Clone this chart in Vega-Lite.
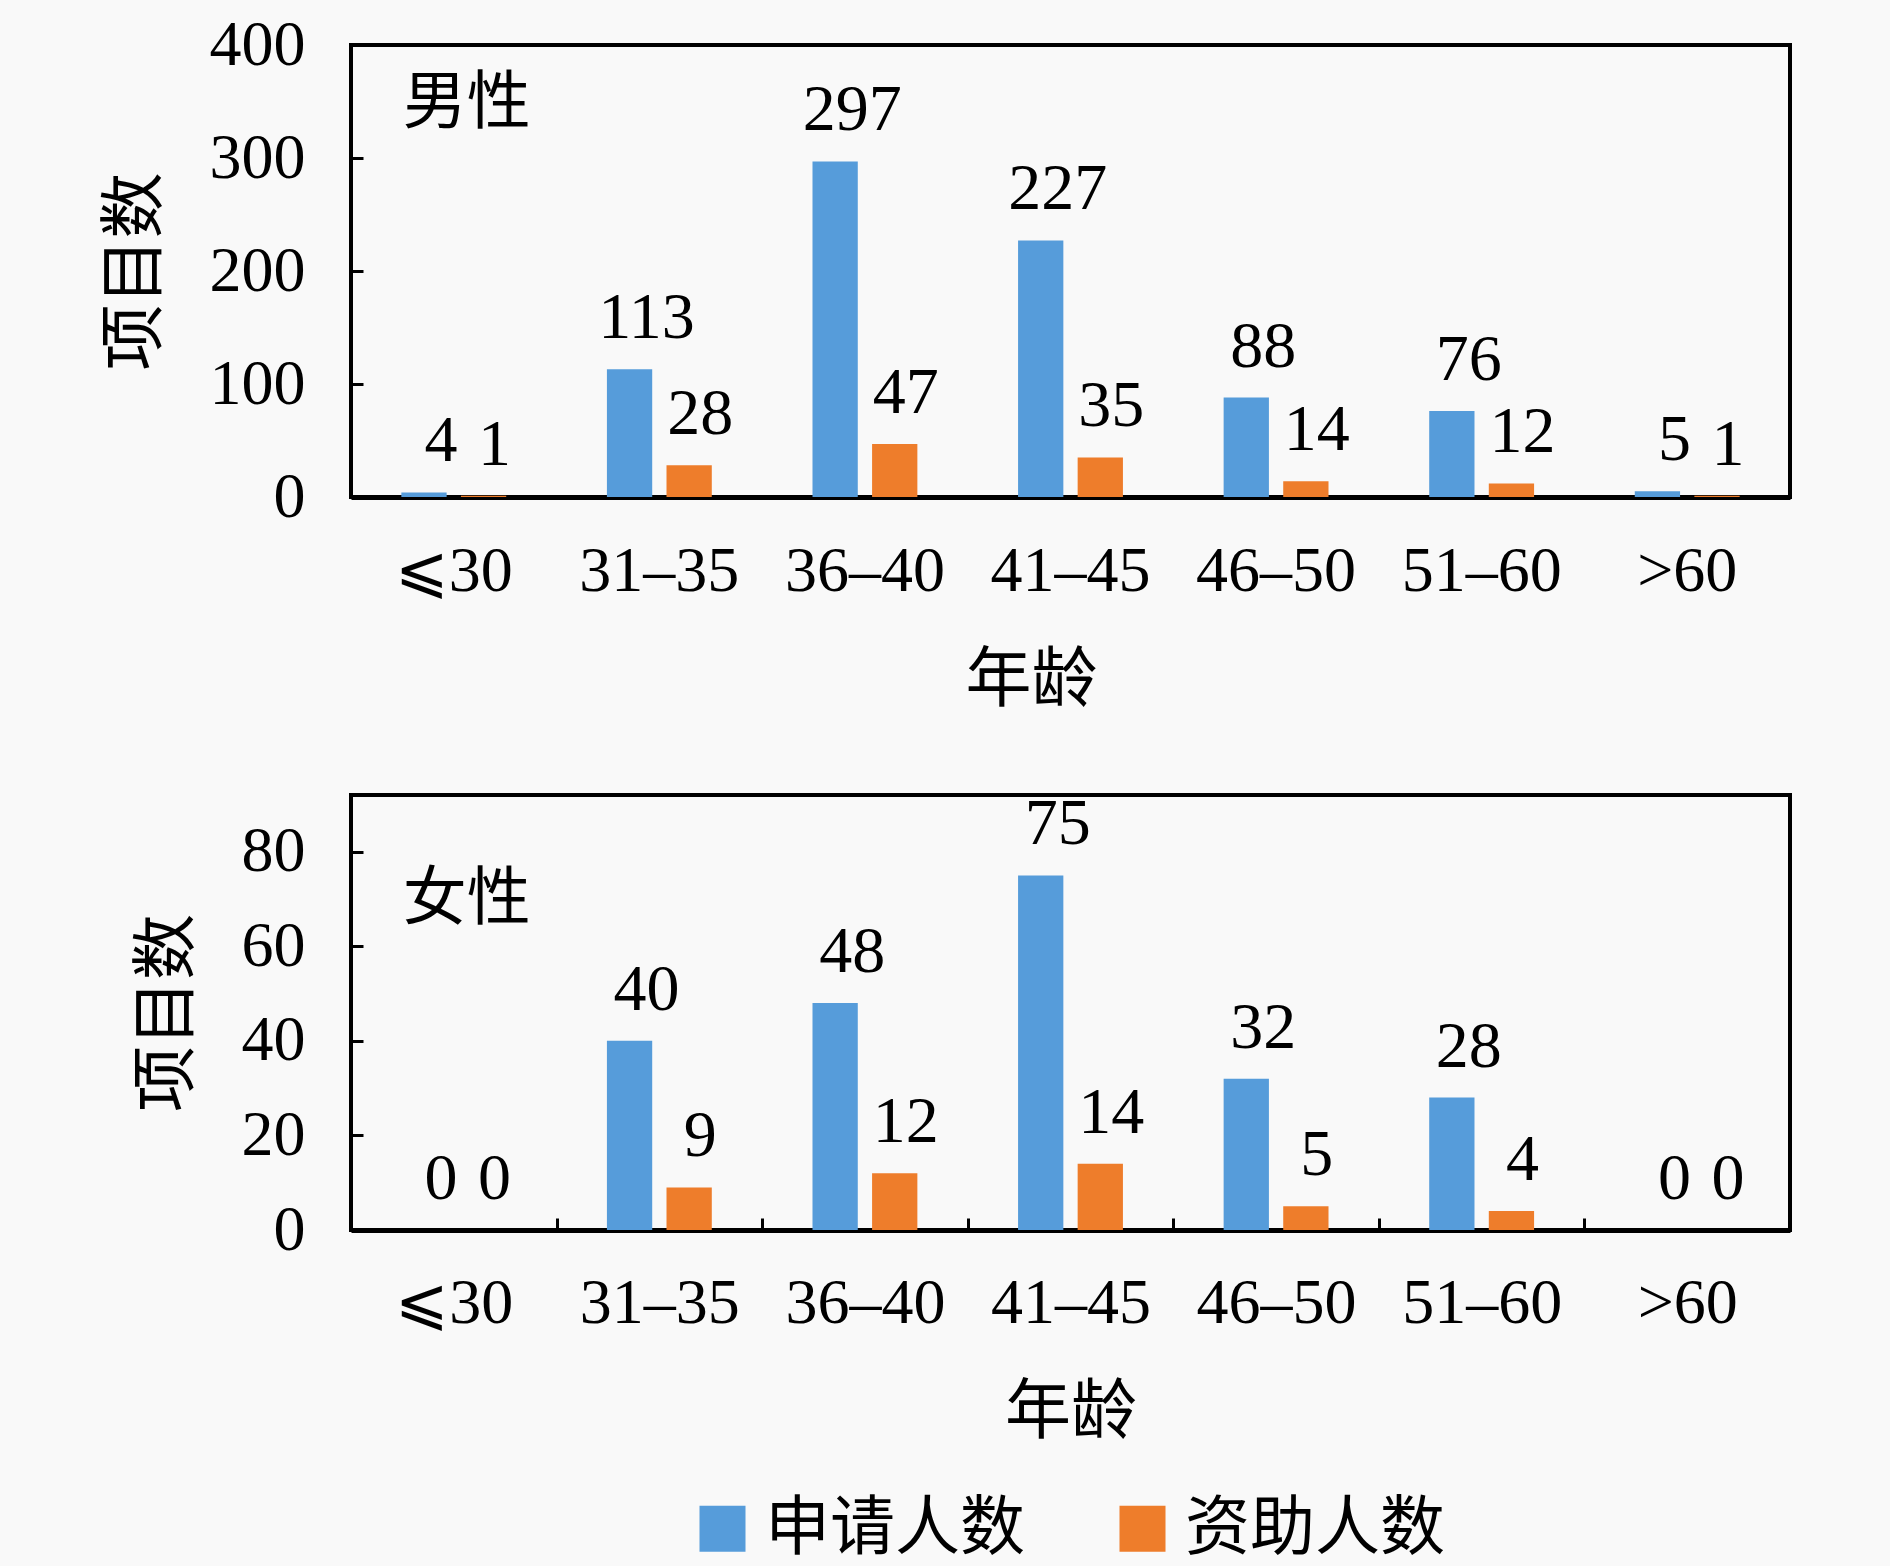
{
  "$schema": "https://vega.github.io/schema/vega-lite/v6.json",
  "background": "#f9f9f9",
  "padding": {"left": 100, "top": 11, "right": 98, "bottom": 5},
  "datasets": {
    "male": [
      {"age": "⩽30", "series": "申请人数", "count": 4},
      {"age": "⩽30", "series": "资助人数", "count": 1},
      {"age": "31–35", "series": "申请人数", "count": 113},
      {"age": "31–35", "series": "资助人数", "count": 28},
      {"age": "36–40", "series": "申请人数", "count": 297},
      {"age": "36–40", "series": "资助人数", "count": 47},
      {"age": "41–45", "series": "申请人数", "count": 227},
      {"age": "41–45", "series": "资助人数", "count": 35},
      {"age": "46–50", "series": "申请人数", "count": 88},
      {"age": "46–50", "series": "资助人数", "count": 14},
      {"age": "51–60", "series": "申请人数", "count": 76},
      {"age": "51–60", "series": "资助人数", "count": 12},
      {"age": ">60", "series": "申请人数", "count": 5},
      {"age": ">60", "series": "资助人数", "count": 1}
    ],
    "female": [
      {"age": "⩽30", "series": "申请人数", "count": 0},
      {"age": "⩽30", "series": "资助人数", "count": 0},
      {"age": "31–35", "series": "申请人数", "count": 40},
      {"age": "31–35", "series": "资助人数", "count": 9},
      {"age": "36–40", "series": "申请人数", "count": 48},
      {"age": "36–40", "series": "资助人数", "count": 12},
      {"age": "41–45", "series": "申请人数", "count": 75},
      {"age": "41–45", "series": "资助人数", "count": 14},
      {"age": "46–50", "series": "申请人数", "count": 32},
      {"age": "46–50", "series": "资助人数", "count": 5},
      {"age": "51–60", "series": "申请人数", "count": 28},
      {"age": "51–60", "series": "资助人数", "count": 4},
      {"age": ">60", "series": "申请人数", "count": 0},
      {"age": ">60", "series": "资助人数", "count": 0}
    ]
  },
  "spacing": 74,
  "vconcat": [
    {
      "width": 1439,
      "height": 452,
      "data": {"name": "male"},
      "encoding": {
        "x": {
          "field": "age",
          "type": "nominal",
          "sort": null,
          "scale": {"paddingInner": 0, "paddingOuter": 0},
          "axis": {"title": "年龄", "ticks": false, "labelPadding": 42, "titlePadding": 45, "titleX": 680}
        },
        "xOffset": {"field": "series", "sort": null, "scale": {"paddingInner": 0.24, "paddingOuter": 0.845}},
        "y": {
          "field": "count",
          "type": "quantitative",
          "scale": {"domain": [0, 400]},
          "axis": {"title": "项目数", "values": [0, 100, 200, 300, 400]}
        }
      },
      "layer": [
        {
          "mark": {"type": "bar"},
          "encoding": {"color": {"field": "series", "type": "nominal", "sort": null, "title": null}}
        },
        {
          "transform": [{"filter": "datum.series === '申请人数'"}],
          "mark": {"type": "text", "baseline": "alphabetic", "dy": -31, "dx": 17, "fontSize": 66},
          "encoding": {"text": {"field": "count"}}
        },
        {
          "transform": [{"filter": "datum.series === '资助人数'"}],
          "mark": {"type": "text", "baseline": "alphabetic", "dy": -31, "dx": 11, "fontSize": 66},
          "encoding": {"text": {"field": "count"}}
        },
        {
          "data": {"values": [{"age": "⩽30", "count": 347.5, "tag": "男性"}]},
          "mark": {"type": "text", "baseline": "middle", "align": "center", "dx": 13, "fontSize": 64, "font": "Noto Sans CJK SC"},
          "encoding": {"text": {"field": "tag"}, "xOffset": null}
        }
      ]
    },
    {
      "width": 1439,
      "height": 435,
      "data": {"name": "female"},
      "encoding": {
        "x": {
          "field": "age",
          "type": "nominal",
          "sort": null,
          "scale": {"paddingInner": 0, "paddingOuter": 0},
          "axis": {"title": "年龄", "ticks": true, "tickBand": "extent", "tickSize": -12, "labelPadding": 53, "titlePadding": 45}
        },
        "xOffset": {"field": "series", "sort": null, "scale": {"paddingInner": 0.24, "paddingOuter": 0.845}},
        "y": {
          "field": "count",
          "type": "quantitative",
          "scale": {"domain": [0, 92]},
          "axis": {"title": "项目数", "values": [0, 20, 40, 60, 80]}
        }
      },
      "layer": [
        {
          "mark": {"type": "bar"},
          "encoding": {
            "color": {
              "field": "series",
              "type": "nominal",
              "sort": null,
              "title": null,
              "legend": {"orient": "none", "direction": "horizontal", "legendX": 339, "legendY": 1451}
            }
          }
        },
        {
          "transform": [{"filter": "datum.series === '申请人数'"}],
          "mark": {"type": "text", "baseline": "alphabetic", "dy": -31, "dx": 17, "fontSize": 66},
          "encoding": {"text": {"field": "count"}}
        },
        {
          "transform": [{"filter": "datum.series === '资助人数'"}],
          "mark": {"type": "text", "baseline": "alphabetic", "dy": -31, "dx": 11, "fontSize": 66},
          "encoding": {"text": {"field": "count"}}
        },
        {
          "data": {"values": [{"age": "⩽30", "count": 69.7, "tag": "女性"}]},
          "mark": {"type": "text", "baseline": "middle", "align": "center", "dx": 13, "fontSize": 64, "font": "Noto Sans CJK SC"},
          "encoding": {"text": {"field": "tag"}, "xOffset": null}
        }
      ]
    }
  ],
  "resolve": {"scale": {"color": "shared"}},
  "config": {
    "font": "Liberation Serif",
    "view": {"stroke": "#000000", "strokeWidth": 4},
    "text": {"color": "#000000", "font": "Liberation Serif"},
    "range": {"category": ["#569CDA", "#EE7D2B"]},
    "axis": {
      "grid": false,
      "labelFont": "Liberation Serif",
      "labelFontSize": 64,
      "labelColor": "#000000",
      "titleFont": "Noto Sans CJK SC",
      "titleFontSize": 66,
      "titleFontWeight": "normal",
      "titleColor": "#000000",
      "tickColor": "#000000",
      "tickWidth": 3,
      "domainColor": "#000000"
    },
    "axisX": {"labelAngle": 0, "domainWidth": 5},
    "axisY": {"domain": false, "tickSize": -12, "labelPadding": 58, "titlePadding": 40},
    "legend": {
      "symbolType": "square",
      "symbolSize": 2116,
      "symbolStrokeWidth": 0,
      "symbolOpacity": 1,
      "labelFont": "Noto Sans CJK SC",
      "labelFontSize": 65,
      "labelColor": "#000000",
      "labelOffset": 10,
      "columnPadding": 84,
      "labelLimit": 400
    }
  }
}
